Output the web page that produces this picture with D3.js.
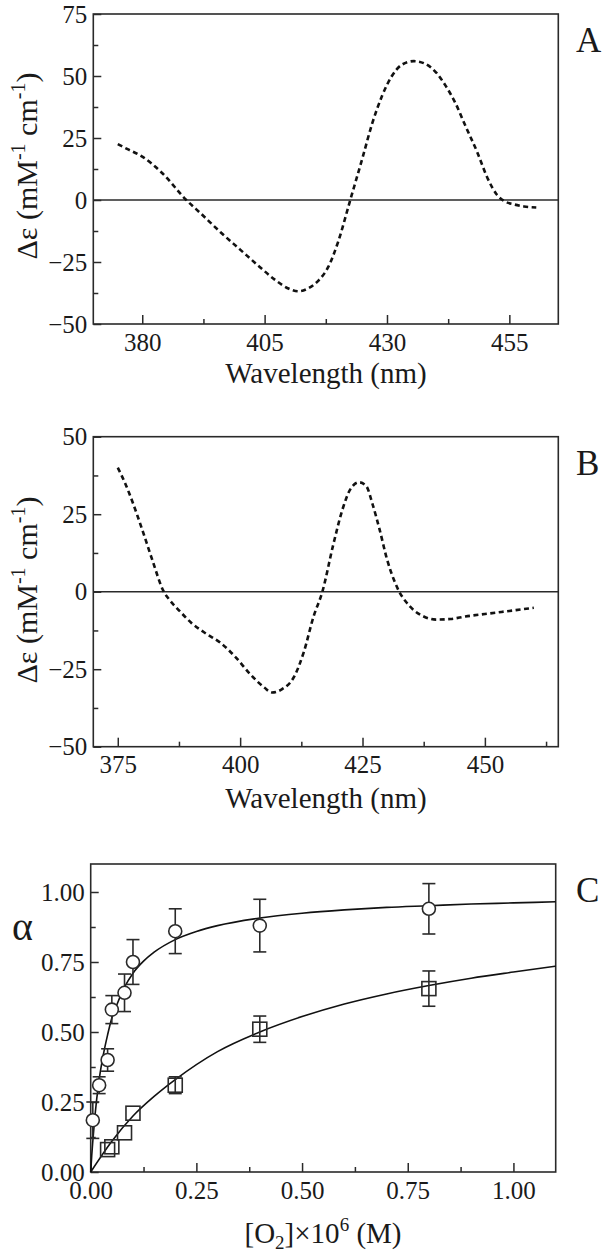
<!DOCTYPE html>
<meta charset="utf-8">
<script src="https://d3js.org/d3.v7.min.js"></script>
<style>
  body { margin: 0; background: #fff; }
</style>
<div id="chart"></div>
<script>

// ---- panel A : CD spectrum (dashed) ----
const wlA = [375, 377, 380, 384, 389, 392, 396, 400, 404, 407, 410, 412, 414, 416, 418, 420, 422.5, 425, 427, 429, 431, 433, 435.5, 437.5, 440, 442, 444, 446, 448.5, 450.5, 452.5, 454, 456, 458, 460.5];
const deA = [22.5, 20.5, 17.5, 11, 0, -5.5, -13, -20, -27, -32, -35.8, -36.8, -35.5, -32.5, -27, -17, 0, 17, 31, 42, 50, 54.5, 56, 55.2, 51.5, 46, 39, 30, 19, 9, 2, -0.5, -1.8, -2.6, -3];
const xTicksA = [380, 405, 430, 455];
const xMinorA = [392.5, 417.5, 442.5];
const yTicksA = [-50, -25, 0, 25, 50, 75];
const yMinorA = [-37.5, -12.5, 12.5, 37.5, 62.5];

// ---- panel B : CD spectrum (dashed) ----
const wlB = [375, 376.5, 378, 380, 382, 384.4, 385.5, 387.5, 390, 393, 396, 399, 402, 405, 406.5, 408.5, 411, 413, 415, 416.8, 419, 421, 422.5, 424.3, 425.8, 427, 428.5, 430, 431.5, 432.5, 434, 435.5, 437.5, 440, 443, 446, 450, 455, 460];
const deB = [40, 35, 29, 20, 10.5, 0, -2.5, -6, -10, -13.5, -16.5, -21, -26.5, -31, -32.5, -31.5, -27.5, -19.5, -8, 0, 15, 27, 33, 35.3, 34, 28.5, 20, 10.5, 3.5, 0, -3.5, -6, -8, -9, -8.8, -8, -7.2, -6.2, -5.2];
const xTicksB = [375, 400, 425, 450];
const xMinorB = [387.5, 412.5, 437.5, 462.5];
const yTicksB = [-50, -25, 0, 25, 50];
const yMinorB = [-37.5, -12.5, 12.5, 37.5];

// ---- panel C : saturation ----
const o2Circ  = [0.005, 0.02, 0.04, 0.05, 0.08, 0.10, 0.20, 0.40, 0.80];
const aCirc   = [0.185, 0.31, 0.40, 0.58, 0.64, 0.75, 0.86, 0.88, 0.94];
const errCirc = [0.065, 0.03, 0.04, 0.05, 0.067, 0.08, 0.08, 0.094, 0.09];
const o2Sq  = [0.04, 0.05, 0.08, 0.10, 0.20, 0.40, 0.80];
const aSq   = [0.08, 0.09, 0.14, 0.21, 0.31, 0.51, 0.655];
const errSq = [0, 0, 0, 0, 0.03, 0.047, 0.063];
// fitted curves
const fitCircX = [0, 0.0025, 0.005, 0.01, 0.02, 0.03, 0.04, 0.05, 0.06, 0.08, 0.10, 0.125, 0.15, 0.20, 0.25, 0.30, 0.40, 0.50, 0.60, 0.70, 0.80, 0.90, 1.00, 1.10];
const fitCircY = [0, 0.06, 0.11, 0.20, 0.33, 0.42, 0.49, 0.55, 0.59, 0.66, 0.71, 0.753, 0.785, 0.83, 0.859, 0.88, 0.907, 0.924, 0.936, 0.945, 0.951, 0.957, 0.961, 0.965];
const fitSqX = [0, 0.05, 0.10, 0.15, 0.20, 0.30, 0.40, 0.50, 0.60, 0.70, 0.80, 0.90, 1.00, 1.10];
const fitSqY = [0, 0.11, 0.20, 0.27, 0.33, 0.43, 0.50, 0.555, 0.60, 0.636, 0.666, 0.692, 0.714, 0.735];
const xTicksC = [0, 0.25, 0.5, 0.75, 1.0];
const xMinorC = [0.125, 0.375, 0.625, 0.875];
const yTicksC = [0, 0.25, 0.5, 0.75, 1.0];
const yMinorC = [0.125, 0.375, 0.625, 0.875];

const W = 609, H = 1255;
const ink = "#2a2a2a";
const serif = '"Liberation Serif", cursive';
const svg = d3.select("#chart").append("svg").attr("width", W).attr("height", H)
  .style("font-family", serif);

// draws frame + inward ticks, returns scales and group
function panel(p) {
  const g = svg.append("g").attr("transform", `translate(${p.left},${p.top})`);
  const x = d3.scaleLinear().domain(p.xDomain).range([0, p.w]);
  const y = d3.scaleLinear().domain(p.yDomain).range([p.h, 0]);

  g.append("g").attr("transform", `translate(0,${p.h})`)
    .call(d3.axisBottom(x).tickValues(p.xMajor).tickSize(-9).tickPadding(9).tickFormat(p.fx));
  g.append("g").attr("transform", `translate(0,${p.h})`)
    .call(d3.axisBottom(x).tickValues(p.xMinor).tickSize(-5).tickFormat(""));
  g.append("g")
    .call(d3.axisLeft(y).tickValues(p.yMajor).tickSize(-8).tickPadding(6).tickFormat(p.fy));
  g.append("g")
    .call(d3.axisLeft(y).tickValues(p.yMinor).tickSize(-5).tickFormat(""));

  g.selectAll(".domain").remove();
  g.selectAll(".tick line").attr("stroke", ink).attr("stroke-width", 1.5);
  g.selectAll(".tick text").attr("font-size", 25).style("font-family", serif).attr("fill", "#1a1a1a");

  g.append("rect").attr("width", p.w).attr("height", p.h)
    .attr("fill", "none").attr("stroke", ink).attr("stroke-width", 1.6);
  return {g, x, y};
}

function label(x, y, size, txt) {
  return svg.append("text").attr("x", x).attr("y", y).attr("font-size", size)
    .style("font-family", serif).attr("fill", "#1a1a1a").text(txt);
}

function yTitle(cx, cy) {
  const t = svg.append("text").attr("transform", `translate(${cx},${cy}) rotate(-90)`)
    .attr("text-anchor", "middle").attr("font-size", 30).style("font-family", serif).attr("fill", "#1a1a1a");
  t.append("tspan").text("\u0394\u03b5 (mM");
  t.append("tspan").attr("font-size", 20).attr("dy", -12).text("-1");
  t.append("tspan").attr("dy", 12).text(" cm");
  t.append("tspan").attr("font-size", 20).attr("dy", -12).text("-1");
  t.append("tspan").attr("dy", 12).text(")");
}

function spectrum(P, wl, de) {
  P.g.append("line").attr("x1", 0).attr("x2", P.x.range()[1])
    .attr("y1", P.y(0)).attr("y2", P.y(0)).attr("stroke", ink).attr("stroke-width", 1.6);
  P.g.append("path").datum(d3.zip(wl, de))
    .attr("d", d3.line().curve(d3.curveMonotoneX).x(d => P.x(d[0])).y(d => P.y(d[1])))
    .attr("fill", "none").attr("stroke", "#111").attr("stroke-width", 2.6)
    .attr("stroke-dasharray", "5,3.5");
}

// ---- A ----
const A = panel({left: 93.3, top: 14, w: 465, h: 310, xDomain: [370, 465], yDomain: [-50, 75],
  xMajor: xTicksA, xMinor: xMinorA, yMajor: yTicksA, yMinor: yMinorA, fx: d3.format("d"), fy: d3.format("d")});
spectrum(A, wlA, deA);
label(326, 383, 29, "Wavelength (nm)").attr("text-anchor", "middle");
yTitle(37, 166);
label(576, 52, 35, "A");

// ---- B ----
const B = panel({left: 93.3, top: 436.7, w: 465, h: 310, xDomain: [370, 465], yDomain: [-50, 50],
  xMajor: xTicksB, xMinor: xMinorB, yMajor: yTicksB, yMinor: yMinorB, fx: d3.format("d"), fy: d3.format("d")});
spectrum(B, wlB, deB);
label(326, 808, 29, "Wavelength (nm)").attr("text-anchor", "middle");
yTitle(37, 590);
label(576, 475, 35, "B");

// ---- C ----
const C = panel({left: 90.7, top: 864, w: 465, h: 308, xDomain: [0, 1.1], yDomain: [0, 1.1],
  xMajor: xTicksC, xMinor: xMinorC, yMajor: yTicksC, yMinor: yMinorC, fx: d3.format(".2f"), fy: d3.format(".2f")});

const fit = d3.line().curve(d3.curveMonotoneX).x(d => C.x(d[0])).y(d => C.y(d[1]));
C.g.append("path").datum(d3.zip(fitCircX, fitCircY)).attr("d", fit)
  .attr("fill", "none").attr("stroke", "#111").attr("stroke-width", 1.6);
C.g.append("path").datum(d3.zip(fitSqX, fitSqY)).attr("d", fit)
  .attr("fill", "none").attr("stroke", "#111").attr("stroke-width", 1.6);

function errBars(xs, ys, es) {
  const d = d3.range(xs.length).filter(i => es[i] > 0);
  const eg = C.g.append("g").attr("stroke", ink).attr("stroke-width", 1.6);
  eg.selectAll(".v").data(d).join("line")
    .attr("x1", i => C.x(xs[i])).attr("x2", i => C.x(xs[i]))
    .attr("y1", i => C.y(ys[i] - es[i])).attr("y2", i => C.y(ys[i] + es[i]));
  [-1, 1].forEach(s => {
    eg.selectAll(".c" + s).data(d).join("line")
      .attr("x1", i => C.x(xs[i]) - 6.5).attr("x2", i => C.x(xs[i]) + 6.5)
      .attr("y1", i => C.y(ys[i] + s * es[i])).attr("y2", i => C.y(ys[i] + s * es[i]));
  });
}
errBars(o2Circ, aCirc, errCirc);
errBars(o2Sq, aSq, errSq);

C.g.append("g").selectAll("circle").data(d3.zip(o2Circ, aCirc)).join("circle")
  .attr("cx", d => C.x(d[0])).attr("cy", d => C.y(d[1])).attr("r", 6.5)
  .attr("fill", "#fff").attr("stroke", ink).attr("stroke-width", 1.6);
C.g.append("g").selectAll("rect").data(d3.zip(o2Sq, aSq)).join("rect")
  .attr("x", d => C.x(d[0]) - 7).attr("y", d => C.y(d[1]) - 7).attr("width", 14).attr("height", 14)
  .attr("fill", "none").attr("stroke", ink).attr("stroke-width", 1.6);

label(12, 940, 40, "\u03b1");
label(576, 902, 35, "C");
const tc = label(323, 1243, 29, "").attr("text-anchor", "middle");
tc.append("tspan").text("[O");
tc.append("tspan").attr("font-size", 19).attr("dy", 6).text("2");
tc.append("tspan").attr("dy", -6).text("]\u00d710");
tc.append("tspan").attr("font-size", 19).attr("dy", -12).text("6");
tc.append("tspan").attr("dy", 12).text(" (M)");

</script>
